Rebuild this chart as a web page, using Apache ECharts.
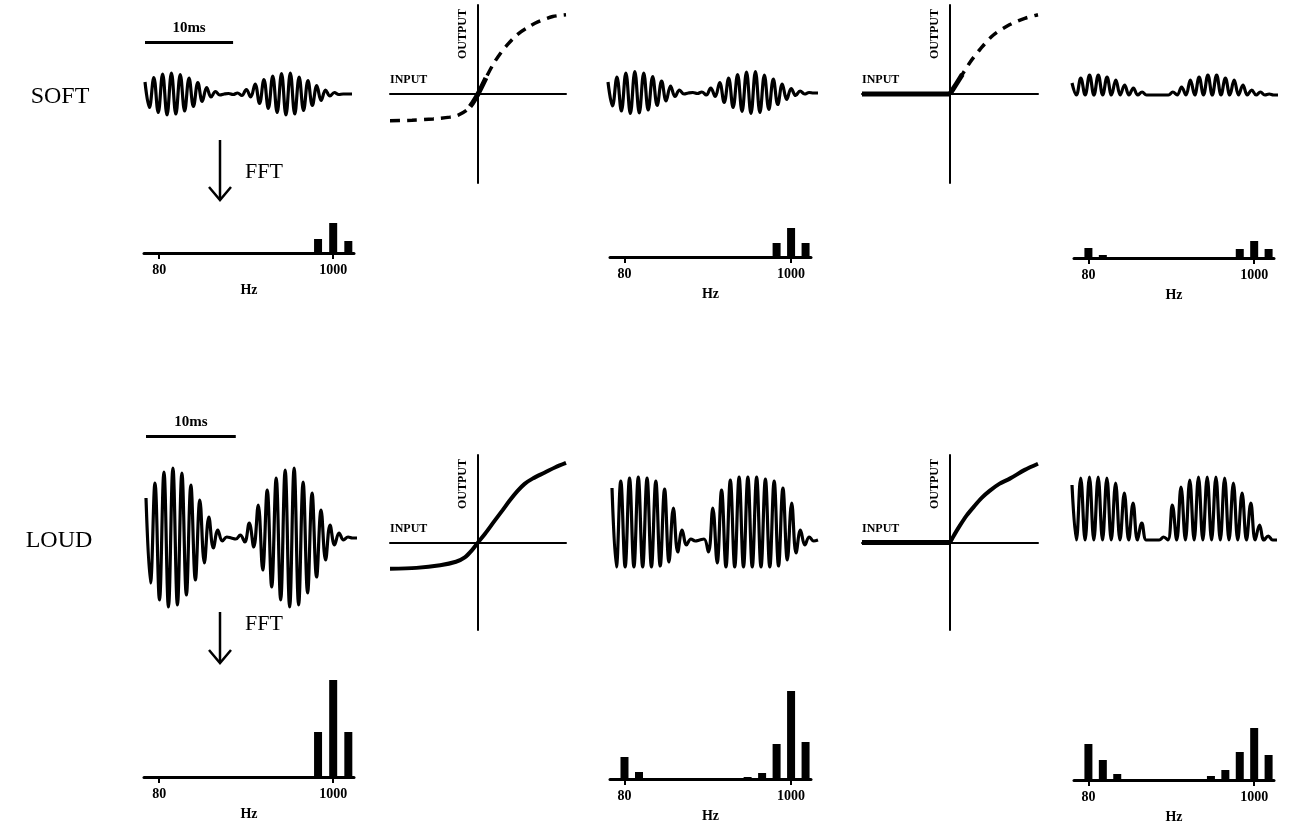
<!DOCTYPE html>
<html><head><meta charset="utf-8">
<script src="https://cdn.jsdelivr.net/npm/echarts@6.0.0/dist/echarts.min.js"></script>
<style>html,body{margin:0;padding:0;background:#fff}#c{width:1291px;height:828px}</style>
</head><body><div id="c"></div>
<script>
// ---------- DATA ----------
// time axis of the waveforms: one sample per half carrier period (0.5 ms)
const halfPeriods = Array.from({length: 48}, (_, i) => (i * 0.5).toFixed(1));
const scaleBarEnd = '10.0'; // 10 ms scale bar

// waveforms (peak / trough values, pixel-like units)
const softInput = [12,-13.5,16.5,-18.5,20,-21,21,-20,19.5,-17,16,-12.5,11.5,-7.5,6.5,-3,2.5,-1,0,0.5,-0.5,1,-1.5,4.5,-3,10,-9.5,14.5,-14.5,18,-18.5,20.5,-21,21,-20,17,-16.5,13.5,-11.5,8.5,-6.5,4,-2,1.5,-0.5,0,0,0];
const softCompressed = [11,-13,16,-18,20,-20.5,21.5,-20,20,-17,16.5,-12.5,12,-8,7,-3.5,3,-1,0,0.5,-0.5,1,-2,5,-3.5,10.5,-9.5,15,-14.5,18.5,-18.5,21,-20.5,21.5,-19.5,18,-16.5,14,-11.5,9,-6.5,4.5,-2.5,2,-1,0.5,0,0];
const softRectified = [12,0,17,0,20,0,20,0,18,0,15,0,10,0,7,0,3,0,0,0,0,0,0,3,0,8,0,15,0,18,0,20,0,20,0,17,0,15,0,10,0,5,0,3,0,1,0,0];
const loudInput = [40,-45,55,-62,66,-69,70,-67,65,-57,53,-42,38,-25,21,-10,8,-3,1,0,-1,3,-4,15,-9,33,-32,48,-49,60,-62,68,-69,70,-67,56,-55,45,-39,28,-22,13,-7,5,-2,1,0,0];
const loudCompressed = [52,-27,59,-27,62,-27,63,-27,62,-27,59,-26,51,-22,32,-12,10,-5,1,-1,0,1,-12,32,-23,50,-27,60,-27,63,-27,63,-27,63,-27,61,-27,59,-26,52,-20,37,-13,10,-5,3,-1,0];
const loudRectified = [55,0,62,0,63,0,63,0,62,0,57,0,47,0,37,0,17,0,0,0,0,3,0,35,0,53,0,60,0,63,0,63,0,63,0,62,0,57,0,47,0,37,0,15,0,4,0,0];

// input/output transfer functions ([input, output], normalised)
const compressSoftCurve = [[-1.0,-0.30],[-0.75,-0.295],[-0.51,-0.28],[-0.32,-0.26],[-0.23,-0.24],[-0.125,-0.18],[-0.06,-0.10],[0,0],[0.09,0.18],[0.17,0.33],[0.25,0.45],[0.34,0.56],[0.45,0.67],[0.57,0.75],[0.68,0.81],[0.85,0.87],[1.0,0.89]];
const compressSoftActive = [[-0.09,-0.14],[-0.06,-0.10],[0,0],[0.09,0.18]];
const rectifySoftNegative = [[-1,0],[0,0]];
const rectifySoftCurve = [[0,0],[0.07,0.11],[0.14,0.22],[0.23,0.36],[0.34,0.50],[0.49,0.66],[0.68,0.78],[0.85,0.85],[1.0,0.89]];
const rectifySoftActive = [[0,0],[0.07,0.11],[0.14,0.22]];
const compressLoudCurve = [[-1.0,-0.30],[-0.7,-0.29],[-0.43,-0.26],[-0.25,-0.22],[-0.15,-0.17],[-0.07,-0.09],[0,0],[0.08,0.10],[0.19,0.25],[0.28,0.37],[0.36,0.48],[0.45,0.59],[0.53,0.67],[0.62,0.73],[0.76,0.80],[0.88,0.86],[1.0,0.91]];
const rectifyLoudNegative = [[-1,0],[0,0]];
const rectifyLoudCurve = [[0,0],[0.05,0.09],[0.11,0.19],[0.19,0.31],[0.28,0.42],[0.36,0.51],[0.45,0.59],[0.56,0.67],[0.68,0.73],[0.85,0.83],[1.0,0.90]];

// FFT spectra (Hz bins and magnitudes)
const freqBins = [80, 160, 240, 760, 840, 920, 1000, 1080];
const freqTicks = [80, 1000];
const specSoftInput      = [0, 0, 0, 0, 0, 14, 30, 12];
const specSoftCompressed = [0, 0, 0, 0, 0, 14, 29, 14];
const specSoftRectified  = [10, 3, 0, 0, 0, 9, 17, 9];
const specLoudInput      = [0, 0, 0, 0, 0, 45, 97, 45];
const specLoudCompressed = [22, 7, 0, 2, 6, 35, 88, 37];
const specLoudRectified  = [36, 20, 6, 4, 10, 28, 52, 25];

// ---------- BUILD ----------
const FONT = '"Liberation Serif", "DejaVu Serif", serif';
const INK = '#000';
const grids = [], xAxes = [], yAxes = [], series = [];
function addGrid(l, t, w, h) {
  grids.push({left: l, top: t, width: w, height: h, containLabel: false});
  return grids.length - 1;
}

function wavePanel(l, t, w, yMax, data, scaleBarY) {
  const gi = addGrid(l, t, w, yMax * 2);
  xAxes.push({gridIndex: gi, type: 'category', data: halfPeriods, boundaryGap: false, show: false});
  yAxes.push({gridIndex: gi, type: 'value', min: -yMax, max: yMax, show: false});
  const s = {type: 'line', xAxisIndex: gi, yAxisIndex: gi, data: data, smooth: 0.4,
    showSymbol: false, silent: true, lineStyle: {color: INK, width: 3.2}};
  if (scaleBarY !== undefined) {
    s.markLine = {silent: true, symbol: 'none', animation: false,
      lineStyle: {color: INK, width: 3, type: 'solid'},
      label: {show: true, formatter: '10ms', position: 'insideMiddleTop', distance: 6,
        color: INK, fontFamily: FONT, fontWeight: 'bold', fontSize: 15},
      data: [[{coord: [halfPeriods[0], scaleBarY]}, {coord: [scaleBarEnd, scaleBarY]}]]};
  }
  series.push(s);
}

function transferPanel(l, t, w, h, layers) {
  const gi = addGrid(l, t, w, h);
  xAxes.push({gridIndex: gi, type: 'value', min: -1, max: 1,
    axisLine: {show: true, onZero: true, lineStyle: {color: INK, width: 2}},
    axisTick: {show: false}, axisLabel: {show: false}, splitLine: {show: false},
    name: 'INPUT', nameLocation: 'start', nameGap: 0,
    nameTextStyle: {align: 'left', verticalAlign: 'bottom', padding: [0, 0, 8, 0],
      color: INK, fontFamily: FONT, fontWeight: 'bold', fontSize: 12}});
  yAxes.push({gridIndex: gi, type: 'value', min: -1, max: 1,
    axisLine: {show: true, onZero: true, lineStyle: {color: INK, width: 2}},
    axisTick: {show: false}, axisLabel: {show: false}, splitLine: {show: false},
    name: 'OUTPUT', nameLocation: 'end', nameRotate: 90, nameGap: -4,
    nameTextStyle: {align: 'right', verticalAlign: 'bottom', padding: [0, 0, 9, 0],
      color: INK, fontFamily: FONT, fontWeight: 'bold', fontSize: 12}});
  layers.forEach(ly => series.push({type: 'line', xAxisIndex: gi, yAxisIndex: gi,
    data: ly.data, smooth: 0.3, showSymbol: false, silent: true,
    lineStyle: {color: INK, width: ly.width, type: ly.dash ? [10, 7] : 'solid', cap: 'butt'}}));
}

function specPanel(l, baseline, w, values) {
  const gi = addGrid(l, baseline - 130, w, 130);
  xAxes.push({gridIndex: gi, type: 'value', min: 0, max: 1110,
    axisLine: {show: true, onZero: false, lineStyle: {color: INK, width: 3}},
    axisTick: {show: true, customValues: freqTicks, length: 6, lineStyle: {color: INK, width: 2}},
    axisLabel: {show: true, customValues: freqTicks, margin: 10, color: INK,
      formatter: v => String(v),
      fontFamily: FONT, fontWeight: 'bold', fontSize: 14},
    splitLine: {show: false},
    name: 'Hz', nameLocation: 'middle', nameGap: 30,
    nameTextStyle: {color: INK, fontFamily: FONT, fontWeight: 'bold', fontSize: 14}});
  yAxes.push({gridIndex: gi, type: 'value', min: 0, max: 130, show: false});
  series.push({type: 'bar', xAxisIndex: gi, yAxisIndex: gi, silent: true,
    data: freqBins.map((f, k) => [f, values[k]]), barWidth: 8, itemStyle: {color: INK}});
}

// SOFT row
wavePanel(145, 24, 207, 70, softInput, 52);
wavePanel(608, 23, 210, 70, softCompressed);
wavePanel(1072, 25, 206, 70, softRectified);
transferPanel(390, 5, 176, 178, [
  {data: compressSoftCurve, width: 3.5, dash: true},
  {data: compressSoftActive, width: 5}]);
transferPanel(862, 5, 176, 178, [
  {data: rectifySoftCurve, width: 3.5, dash: true},
  {data: rectifySoftNegative, width: 5},
  {data: rectifySoftActive, width: 5}]);
specPanel(144, 253, 210, specSoftInput);
specPanel(610, 257, 201, specSoftCompressed);
specPanel(1074, 258, 200, specSoftRectified);

// LOUD row
wavePanel(146, 428, 211, 110, loudInput, 102);
wavePanel(612, 430, 206, 110, loudCompressed);
wavePanel(1072, 430, 205, 110, loudRectified);
transferPanel(390, 455, 176, 175, [{data: compressLoudCurve, width: 4}]);
transferPanel(862, 455, 176, 175, [
  {data: rectifyLoudNegative, width: 5},
  {data: rectifyLoudCurve, width: 4}]);
specPanel(144, 777, 210, specLoudInput);
specPanel(610, 779, 201, specLoudCompressed);
specPanel(1074, 780, 200, specLoudRectified);

function arrow(x, y1, y2) {
  return [
    {type: 'line', shape: {x1: x, y1: y1, x2: x, y2: y2 - 1}, style: {stroke: INK, lineWidth: 2.5}},
    {type: 'polyline', shape: {points: [[x - 11, y2 - 13], [x, y2], [x + 11, y2 - 13]]},
      style: {stroke: INK, lineWidth: 2.5, fill: null}}];
}
function label(text, x, y, size, align) {
  return {type: 'text', x: x, y: y, style: {text: text, fill: INK, font: size + 'px ' + FONT,
    align: align || 'left', verticalAlign: 'middle', textAlign: align || 'left', textVerticalAlign: 'middle'}};
}

const chart = echarts.init(document.getElementById('c'), null, {renderer: 'canvas'});
chart.setOption({
  backgroundColor: '#fff',
  animation: false,
  grid: grids, xAxis: xAxes, yAxis: yAxes, series: series,
  graphic: [
    label('SOFT', 60, 97, 24, 'center'),
    label('LOUD', 59, 541, 24, 'center'),
    label('FFT', 245, 172, 22),
    label('FFT', 245, 624, 22),
    ...arrow(220, 140, 200),
    ...arrow(220, 612, 663)
  ]
});
</script></body></html>
